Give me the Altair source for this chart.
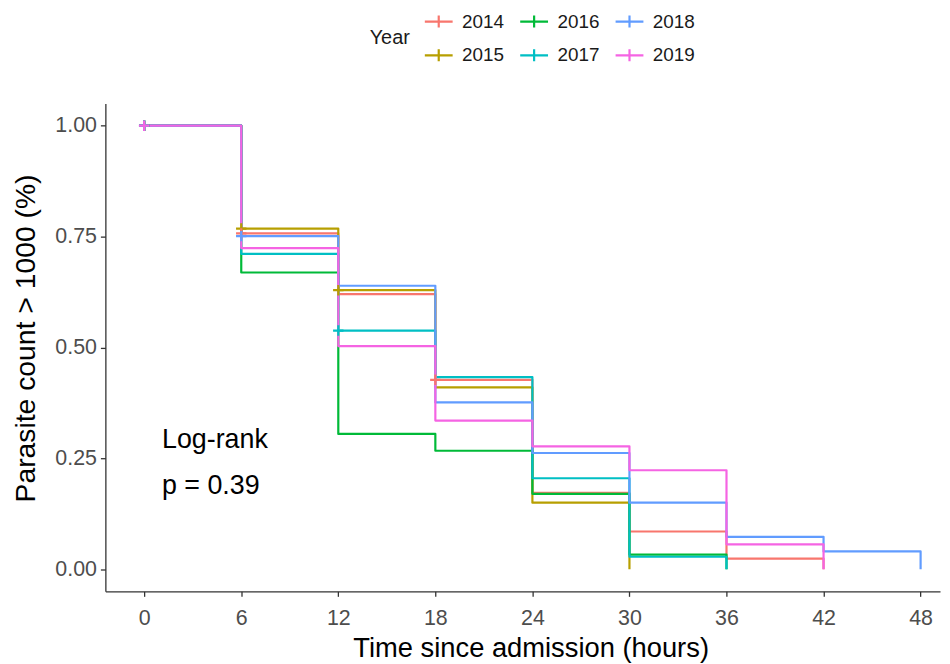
import altair as alt
import pandas as pd

# ---- data ----
years = ["2014", "2015", "2016", "2017", "2018", "2019"]
colors = ["#F8766D", "#B79F00", "#00BA38", "#00BFC4", "#619CFF", "#F564E3"]

times = {
    "2014": [0, 6, 12, 18, 24, 30, 36, 42],
    "2015": [0, 6, 12, 18, 24, 30],
    "2016": [0, 6, 12, 18, 24, 30, 36],
    "2017": [0, 6, 12, 18, 24, 30, 36],
    "2018": [0, 6, 12, 18, 24, 30, 36, 42, 48],
    "2019": [0, 6, 12, 18, 24, 30, 36, 42],
}
surv = {
    "2014": [1.0, 0.757, 0.620, 0.427, 0.172, 0.085, 0.024, 0.0],
    "2015": [1.0, 0.768, 0.629, 0.410, 0.150, 0.0],
    "2016": [1.0, 0.669, 0.305, 0.267, 0.170, 0.033, 0.0],
    "2017": [1.0, 0.711, 0.538, 0.433, 0.205, 0.028, 0.0],
    "2018": [1.0, 0.751, 0.639, 0.376, 0.262, 0.150, 0.073, 0.040, 0.0],
    "2019": [1.0, 0.724, 0.503, 0.335, 0.277, 0.223, 0.056, 0.0],
}

censor_year = ["2014", "2015", "2016", "2017", "2018", "2019",
               "2015", "2014", "2018", "2015", "2017", "2014"]
censor_time = [0, 0, 0, 0, 0, 0, 6, 6, 6, 12, 12, 18]
censor_surv = [1.0, 1.0, 1.0, 1.0, 1.0, 1.0, 0.768, 0.757, 0.751, 0.629, 0.538, 0.427]

x_ticks = [0, 6, 12, 18, 24, 30, 36, 42, 48]
y_ticks = [0.0, 0.25, 0.5, 0.75, 1.0]

annot_text = ["Log-rank", "p = 0.39"]
annot_x = [1.1, 1.1]
annot_y = [0.292, 0.187]

# legend order (column-major like the reference)
legend_order = ["2014", "2016", "2018", "2015", "2017", "2019"]
legend_colors = [colors[years.index(y)] for y in legend_order]

rows = []
for i, y in enumerate(years):
    for t, s in zip(times[y], surv[y]):
        rows.append({"Year": y, "time": t, "surv": s})
lines_df = pd.DataFrame(rows)
censor_df = pd.DataFrame({"Year": censor_year, "time": censor_time, "surv": censor_surv})
annot_df = pd.DataFrame({"label": annot_text, "time": annot_x, "surv": annot_y})

FONT = "Liberation Sans"

xscale = alt.Scale(domain=[-2.4, 49.2], nice=False, zero=False)
yscale = alt.Scale(domain=[-0.05, 1.05], nice=False, zero=False)
cscale = alt.Scale(domain=legend_order, range=legend_colors)

x_enc = alt.X("time:Q", scale=xscale,
              axis=alt.Axis(values=x_ticks, title="Time since admission (hours)", format="d",
                            labelPadding=11, titlePadding=6, titleFontSize=27.5, titleX=428))
y_enc = alt.Y("surv:Q", scale=yscale,
              axis=alt.Axis(values=y_ticks, title="Parasite count > 1000 (%)", format=".2f",
                            labelPadding=4, titlePadding=14, titleFontSize=28.5, titleY=236))

legend_shape = "M-1.4,0H1.4M0,-0.6V0.6"

layers = []
for i, y in enumerate(years):
    lc = alt.Chart(lines_df[lines_df["Year"] == y]).mark_line(
        interpolate="step-after", strokeWidth=2.2, strokeJoin="round", strokeCap="butt"
    ).encode(
        x=x_enc, y=y_enc,
        color=alt.Color("Year:N", scale=cscale,
                        legend=alt.Legend(
                            orient="none", legendX=266, legendY=-94,
                            columns=3, direction="horizontal",
                            titleOrient="left", titleAnchor="middle",
                            titleFontSize=20, titleFontWeight="normal", titleColor="#1a1a1a",
                            titlePadding=17,
                            labelFontSize=19, labelColor="#1a1a1a",
                            symbolType=legend_shape, symbolSize=400, symbolStrokeWidth=2.2,
                            symbolFillColor="transparent",
                            labelOffset=12, columnPadding=11, rowPadding=12,
                        )),
    )
    layers.append(lc)

censor = alt.Chart(censor_df).mark_point(
    shape="M-1,0H1M0,-1V1", size=110, filled=False, strokeWidth=2.2, opacity=1
).encode(
    x=x_enc, y=y_enc,
    color=alt.Color("Year:N", scale=cscale, legend=None),
)

annot = alt.Chart(annot_df).mark_text(
    align="left", baseline="middle", fontSize=27, font=FONT, color="black"
).encode(x=x_enc, y=y_enc, text="label:N")

chart = alt.layer(*layers, censor, annot).properties(
    width=840, height=491,
    autosize=alt.AutoSizeParams(type="none"),
    padding={"left": 98, "top": 94, "right": 2, "bottom": 70},
).configure_view(stroke=None).configure_axis(
    grid=False, domainColor="#333333", domainWidth=1.3, tickColor="#333333",
    tickSize=5, tickWidth=1.3, labelFont=FONT, titleFont=FONT,
    labelFontSize=21.5, labelColor="#4D4D4D", titleColor="black",
    titleFontWeight="normal",
).configure_legend(
    labelFont=FONT, titleFont=FONT
)

chart.save("out.html", embed_options={"renderer": "svg", "actions": False})
